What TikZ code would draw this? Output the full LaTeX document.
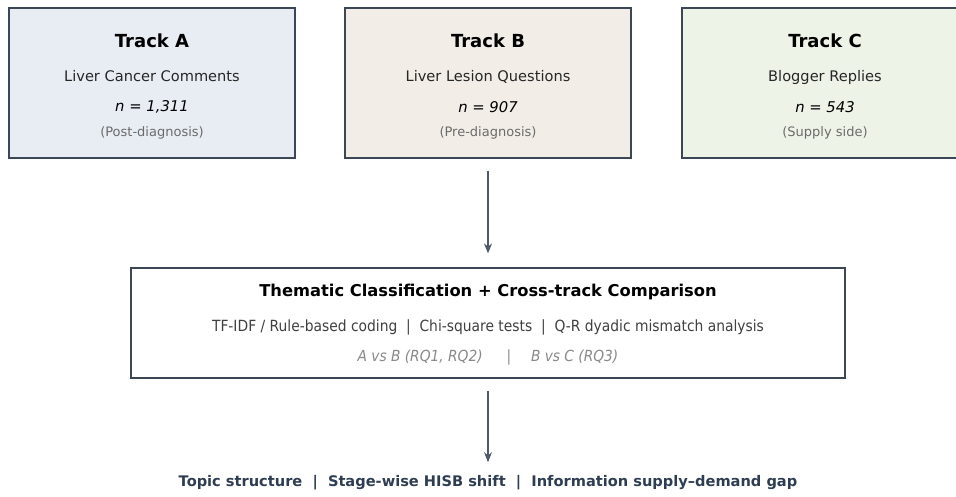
\documentclass[tikz,border=0pt]{standalone}
\usepackage{fontspec}
\setmainfont{DejaVu Sans}
\newfontfamily\condensed{DejaVu Sans Condensed}
\usetikzlibrary{arrows.meta}

\definecolor{edge}{HTML}{3B4656}
\definecolor{fillA}{HTML}{E8EDF4}
\definecolor{fillB}{HTML}{F2EDE7}
\definecolor{fillC}{HTML}{EEF3E8}
\definecolor{note}{HTML}{6B6B6B}
\definecolor{rq}{HTML}{8A8A8A}
\definecolor{outcome}{HTML}{2E3D52}

\tikzset{
  trackbox/.style={draw=edge, line width=1.3pt, minimum width=286pt, minimum height=150pt, inner sep=0pt},
  title/.style={font=\fontsize{18}{21}\selectfont\bfseries},
  body/.style={font=\fontsize{14.6}{17}\selectfont, text=black!85, text height=1.5ex, text depth=.3ex},
  count/.style={font=\fontsize{14.8}{17}\selectfont\itshape},
  side/.style={font=\fontsize{13}{15}\selectfont, text=note, text height=1.5ex, text depth=.3ex},
  flow/.style={-{Stealth[length=10pt,width=8pt]}, draw=edge!90, line width=1.2pt}
}

\begin{document}
\begin{tikzpicture}[x=1pt,y=-1pt]
    \useasboundingbox (0,0) rectangle (956,496);

    % three input tracks
    \begin{scope}
      \node[trackbox, fill=fillA] (trackA) at (152,83) {};
      \node[title] (titleA) at (152,41) {Track A};
      \node[body] (nameA) at (152,78) {Liver Cancer Comments};
      \node[count] (nA) at (152,107) {n = 1,311};
      \node[side] (sideA) at (152,133) {(Post-diagnosis)};

      \node[trackbox, fill=fillB] (trackB) at (488,83) {};
      \node[title] (titleB) at (488,41) {Track B};
      \node[body] (nameB) at (488,78) {Liver Lesion Questions};
      \node[count] (nB) at (488,107) {n = 907};
      \node[side] (sideB) at (488,133) {(Pre-diagnosis)};

      \node[trackbox, fill=fillC] (trackC) at (825,83) {};
      \node[title] (titleC) at (825,41) {Track C};
      \node[body] (nameC) at (825,78) {Blogger Replies};
      \node[count] (nC) at (825,107) {n = 543};
      \node[side] (sideC) at (825,133) {(Supply side)};
    \end{scope}

    % analysis step
    \begin{scope}
      \node[draw=edge, line width=1.3pt, fill=white, minimum width=714pt, minimum height=110pt] (method) at (488,323) {};
      \node[font=\fontsize{16.3}{19}\selectfont\bfseries] (methodTitle) at (488,292) {Thematic Classification + Cross-track Comparison};
      \node[font=\condensed\fontsize{15.4}{18}\selectfont, text=black!75] (methodTools) at (488,327)
        {TF-IDF / Rule-based coding \ | \ Chi-square tests \ | \ Q-R dyadic mismatch analysis};
      \node[font=\condensed\fontsize{15.3}{18}\selectfont\itshape, text=rq] (methodRQ) at (488,357)
        {A vs B (RQ1, RQ2) \quad\ | \quad B vs C (RQ3)};
    \end{scope}

    % outcomes
    \node[font=\fontsize{14.6}{17}\selectfont\bfseries, text=outcome] (result) at (488,483)
      {Topic structure \ | \ Stage-wise HISB shift \ | \ Information supply--demand gap};

    \draw[flow, shorten <=12pt, shorten >=14pt] (trackB) -- (method);
    \draw[flow, shorten <=12pt, shorten >=10pt] (method.south) -- (result.north);
\end{tikzpicture}
\end{document}
